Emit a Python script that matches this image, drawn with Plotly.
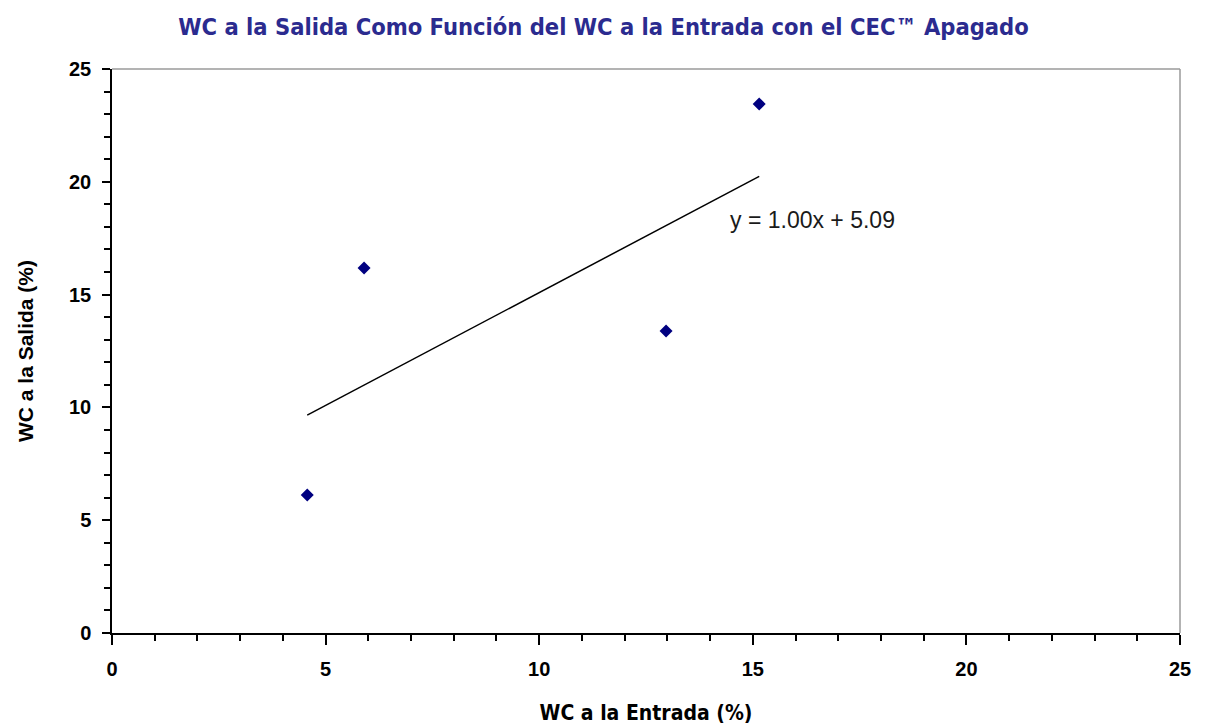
import plotly.graph_objects as go

# Data
wc_entrada = [4.57, 5.90, 12.97, 15.15]
wc_salida = [6.12, 16.18, 13.39, 23.45]
trend_slope = 1.00
trend_intercept = 5.09
x_ticks = [0, 5, 10, 15, 20, 25]
y_ticks = [0, 5, 10, 15, 20, 25]

x_min, x_max = min(wc_entrada), max(wc_entrada)
trend_x = [x_min, x_max]
trend_y = [trend_slope * v + trend_intercept for v in trend_x]

fig = go.Figure()
fig.add_trace(go.Scatter(
    x=trend_x, y=trend_y, mode="lines",
    line=dict(color="black", width=1.5), hoverinfo="skip", showlegend=False))
fig.add_trace(go.Scatter(
    x=wc_entrada, y=wc_salida, mode="markers",
    marker=dict(symbol="diamond", size=10, color="#000080"), showlegend=False))

fig.add_annotation(
    x=16.39, y=18.3, xref="x", yref="y", showarrow=False,
    text="y = 1.00x + 5.09",
    font=dict(family="Liberation Sans, Arial", size=23, color="#1a1a1a"))

# grey frame on top and right
fig.add_shape(type="line", xref="paper", yref="paper", x0=0, x1=1, y0=1, y1=1,
              line=dict(color="#9a9a9a", width=1.5))
fig.add_shape(type="line", xref="paper", yref="paper", x0=1, x1=1, y0=0, y1=1,
              line=dict(color="#9a9a9a", width=1.5))

tick_font = dict(family="Liberation Sans, Arial", size=20, color="black", weight="bold")
narrow = "Liberation Sans Narrow, DejaVu Sans Condensed, Arial Narrow"

fig.update_layout(
    width=1207, height=725,
    margin=dict(l=112, r=27, t=69, b=92),
    paper_bgcolor="white", plot_bgcolor="white",
    title=dict(
        text="<b>WC a la Salida Como Función del WC a la Entrada con el CEC™ Apagado</b>",
        x=0.5, xanchor="center", y=0.963, yanchor="middle",
        font=dict(family=narrow, size=23.5, color="#2b2b8f")),
    xaxis=dict(
        range=[0, 25], tickvals=x_ticks, ticktext=[str(t) for t in x_ticks],
        showgrid=False, zeroline=False, showline=True, linecolor="black", linewidth=1.5,
        ticks="outside", ticklen=10, tickwidth=1.5, tickcolor="black",
        ticklabelstandoff=7, automargin=False,
        minor=dict(dtick=1, ticks="outside", ticklen=6, tickwidth=1.5, tickcolor="black"),
        tickfont=tick_font,
        title=dict(text="<b>WC a la Entrada (%)</b>", standoff=28,
                   font=dict(family=narrow, size=21, color="black"))),
    yaxis=dict(
        range=[0, 25], tickvals=y_ticks, ticktext=[str(t) for t in y_ticks],
        showgrid=False, zeroline=False, showline=True, linecolor="black", linewidth=1.5,
        ticks="outside", ticklen=8, tickwidth=1.5, tickcolor="black",
        ticklabelstandoff=7, automargin=False,
        minor=dict(dtick=1, ticks="outside", ticklen=6, tickwidth=1.5, tickcolor="black"),
        tickfont=tick_font,
        title=dict(text="<b>WC a la Salida (%)</b>", standoff=30,
                   font=dict(family="Liberation Sans, Arial", size=21, color="black"))),
)

fig.write_html("out.html")
